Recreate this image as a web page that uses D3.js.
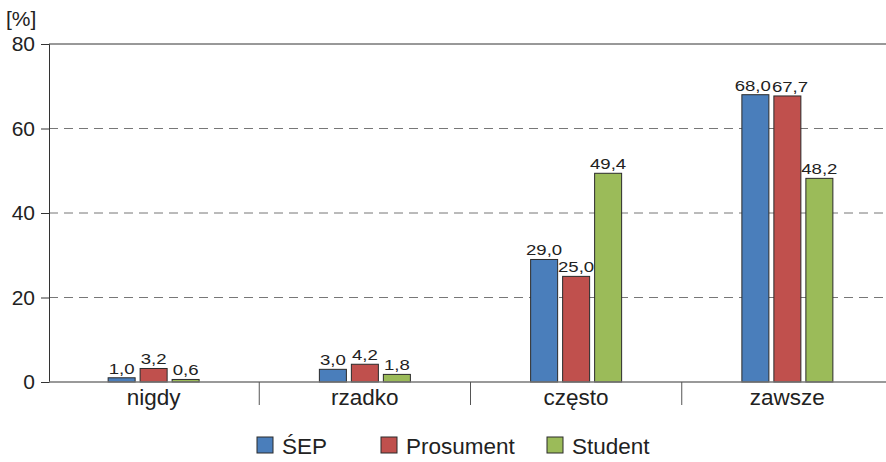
<!DOCTYPE html>
<html><head><meta charset="utf-8">
<script src="https://cdn.jsdelivr.net/npm/d3@7"></script>
<style>body{margin:0;background:#fff}svg{display:block;font-family:"Liberation Sans",Arial,sans-serif}</style>
</head><body><svg id="c" width="886" height="462"></svg>
<script>
const categories = ["nigdy", "rzadko", "często", "zawsze"];
const seriesNames = ["ŚEP", "Prosument", "Student"];
const sep = [1.0, 3.0, 29.0, 68.0];
const prosument = [3.2, 4.2, 25.0, 67.7];
const student = [0.6, 1.8, 49.4, 48.2];
const yTicks = [0, 20, 40, 60, 80];
const colors = ["#4a7ebb", "#c0504d", "#9bbb59"];

(function () {
const svg = d3.select("#c");
const mLeft = 49, mRight = 893, mTop = 44, mBottom = 382;
const x = d3.scaleBand().domain(categories).range([mLeft - 1, mRight]);
const groupW = 91;
const inner = d3.scaleBand().domain(seriesNames).range([0, groupW]).paddingInner(0.156).paddingOuter(0);
const y = d3.scaleLinear().domain([0, 80]).range([mBottom, mTop]);
const data = [sep, prosument, student];
const fmt = v => v.toFixed(1).replace(".", ",");
const gx = (c, s) => x(c) + x.bandwidth() / 2 - groupW / 2 + inner(s);
const sx = 1.2;

// grid
svg.append("g").selectAll("line").data(yTicks.filter(t => t > 0)).join("line")
  .attr("x1", mLeft).attr("x2", mRight).attr("y1", d => y(d)).attr("y2", d => y(d))
  .attr("stroke", d => d === 80 ? "#333" : "#777").attr("stroke-width", 1)
  .attr("stroke-dasharray", d => d === 80 ? null : "9,6");

// y axis
const ya = svg.append("g").attr("transform", `translate(${mLeft},0)`)
  .call(d3.axisLeft(y).tickValues(yTicks).tickSize(8).tickPadding(6));
ya.select(".domain").attr("stroke", "#333");
ya.selectAll(".tick line").attr("stroke", "#333");
ya.selectAll("text").attr("font-size", 21).attr("fill", "#222").attr("font-family", "Liberation Sans, Arial, sans-serif");

svg.append("text").attr("x", 6).attr("y", 26).attr("font-size", 21).attr("fill", "#222").text("[%]");

// bars
const labels = [];
seriesNames.forEach((s, si) => {
  const g = svg.append("g");
  g.selectAll("rect").data(categories).join("rect")
    .attr("x", c => gx(c, s))
    .attr("y", (c, i) => y(data[si][i]))
    .attr("width", inner.bandwidth())
    .attr("height", (c, i) => mBottom - y(data[si][i]))
    .attr("fill", colors[si]).attr("stroke", "#2b2b2b").attr("stroke-width", 1);
  categories.forEach((c, i) => {
    const t = svg.append("text")
      .attr("text-anchor", "middle").attr("font-size", 15.5).attr("fill", "#222")
      .text(fmt(data[si][i]));
    labels.push({ t, c, cx: gx(c, s) + inner.bandwidth() / 2, y: y(data[si][i]) - 4,
      w: t.node().getComputedTextLength() * sx });
  });
});
// simple collision nudge between neighbouring labels of the same category at similar heights
categories.forEach(c => {
  const ls = labels.filter(l => l.c === c).sort((a, b) => a.cx - b.cx);
  for (let k = 0; k < ls.length - 1; k++) {
    const a = ls[k], b = ls[k + 1];
    if (Math.abs(a.y - b.y) < 16) {
      const ov = (a.cx + a.w / 2 + 1) - (b.cx - b.w / 2);
      if (ov > 0) { a.cx -= ov / 2; b.cx += ov / 2; }
    }
  }
});
labels.forEach(l => l.t.attr("transform", `translate(${l.cx},${l.y}) scale(${sx},1)`));

// x axis
svg.append("line").attr("x1", mLeft).attr("x2", mRight).attr("y1", mBottom).attr("y2", mBottom)
  .attr("stroke", "#777").attr("stroke-width", 1.5);
svg.append("g").selectAll("line").data(categories.slice(1)).join("line")
  .attr("x1", c => x(c)).attr("x2", c => x(c)).attr("y1", mBottom).attr("y2", mBottom + 23)
  .attr("stroke", "#555").attr("stroke-width", 1);
svg.append("g").selectAll("text").data(categories).join("text")
  .attr("x", c => x(c) + x.bandwidth() / 2).attr("y", mBottom + 23)
  .attr("text-anchor", "middle").attr("font-size", 22.5).attr("fill", "#222").text(c => c);

// legend
const legX = [257, 381, 547];
const lg = svg.append("g").selectAll("g").data(seriesNames).join("g")
  .attr("transform", (d, i) => `translate(${legX[i]},437)`);
lg.append("rect").attr("width", 16).attr("height", 16)
  .attr("fill", (d, i) => colors[i]).attr("stroke", "#2b2b2b").attr("stroke-width", 1);
lg.append("text").attr("x", 25).attr("y", 17).attr("font-size", 22.5).attr("fill", "#222").text(d => d);
})();
</script></body></html>
